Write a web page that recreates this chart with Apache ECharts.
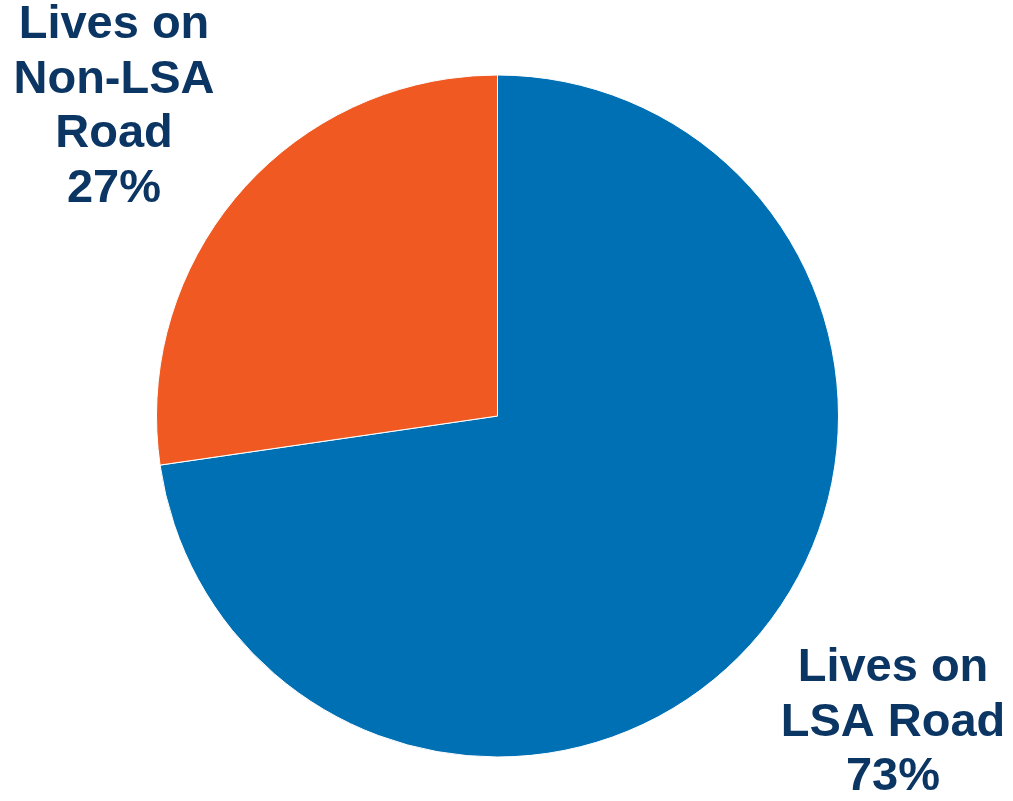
<!DOCTYPE html>
<html>
<head>
<meta charset="utf-8">
<script src="https://cdn.jsdelivr.net/npm/echarts@6/dist/echarts.min.js"></script>
<style>
html,body{margin:0;padding:0;background:#fff;}
#chart{width:1013px;height:801px;}
</style>
</head>
<body>
<div id="chart"></div>
<script>
var categories = ['Lives on LSA Road', 'Lives on Non-LSA Road'];
var values = [72.7, 27.3];
var labelTexts = ['Lives on\nLSA Road\n73%', 'Lives on\nNon-LSA\nRoad\n27%'];
var colors = ['#0070b4', '#f05a22'];

var labelPos = [[893, 723], [114, 107]];

var chart = echarts.init(document.getElementById('chart'), null, {renderer: 'canvas'});
chart.setOption({
  animation: false,
  backgroundColor: '#ffffff',
  series: [{
    type: 'pie',
    center: [497.5, 416],
    radius: [0, 341],
    startAngle: 90,
    clockwise: true,
    avoidLabelOverlap: false,
    data: categories.map(function (c, i) {
      return {name: c, value: values[i], itemStyle: {color: colors[i]}};
    }),
    itemStyle: {borderColor: '#ffffff', borderWidth: 1},
    label: {
      show: true,
      position: 'outside',
      formatter: function (p) { return labelTexts[p.dataIndex]; },
      fontFamily: '"Liberation Sans", Arial, sans-serif',
      fontWeight: 'bold',
      fontSize: 47,
      lineHeight: 54.5,
      color: '#0b3563',
      align: 'center'
    },
    labelLine: {show: false},
    labelLayout: function (params) {
      var p = labelPos[params.dataIndex];
      return {x: p[0], y: p[1], align: 'center', verticalAlign: 'middle'};
    },
    emphasis: {disabled: true}
  }]
});
</script>
</body>
</html>
